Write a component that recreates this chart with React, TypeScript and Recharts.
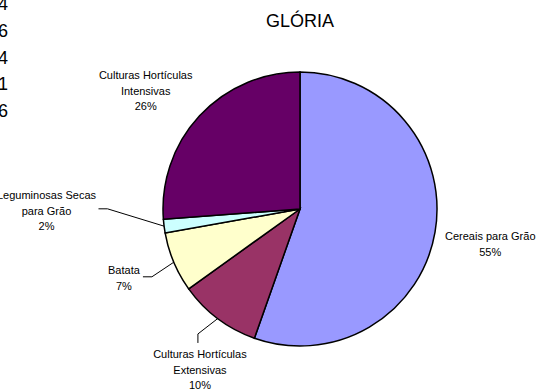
import React from 'react';
import { PieChart, Pie, Cell } from 'recharts';

// Área por tipo de cultura (freguesia da Glória)
const categories = [
    'Cereais para Grão',
    'Culturas Hortículas Extensivas',
    'Batata',
    'Leguminosas Secas para Grão',
    'Culturas Hortículas Intensivas',
];
const shares = [55.4, 9.7, 7.1, 1.6, 26.2];
const labelLines = [
    ['Cereais para Grão'],
    ['Culturas Hortículas', 'Extensivas'],
    ['Batata'],
    ['Leguminosas Secas', 'para Grão'],
    ['Culturas Hortículas', 'Intensivas'],
];
// fragmentos de números cortados à esquerda da imagem
const clippedDigits = ['4', '6', '4', '1', '6'];

const colors = ['#9999FF', '#993366', '#FFFFCC', '#CCFFFF', '#660066'];

// ajustes das etiquetas (deslocamento relativo à posição radial) e linhas de chamada
const labelShift = [
    [3, 3],
    [14, 9],
    [-1, -5],
    [-65, -22],
    [-15, 11],
];
const leaders: (number[][] | null)[] = [
    null,
    [[-2, -36], [-2, -27]],
    [[28, -1], [19, -1]],
    [[61, -2], [52, -2]],
    null,
];

const data = categories.map((name, i) => ({ name, value: shares[i] }));

const FONT = '"Liberation Sans", Arial, sans-serif';
const RAD = Math.PI / 180;

const renderLabel = (props: any) => {
    const { cx, cy, midAngle, outerRadius, percent, index } = props;
    const r = outerRadius + 53;
    const lx = cx + r * Math.cos(-midAngle * RAD) + labelShift[index][0];
    const ly = cy + r * Math.sin(-midAngle * RAD) + labelShift[index][1];
    const lines = [...labelLines[index], `${Math.round(percent * 100)}%`];
    const lineH = 15.5;
    const top = ly - ((lines.length - 1) * lineH) / 2;
    const leader = leaders[index];
    let path = null;
    if (leader) {
        const ex = cx + outerRadius * Math.cos(-midAngle * RAD);
        const ey = cy + outerRadius * Math.sin(-midAngle * RAD);
        const pts = [[ex, ey], ...leader.map(([dx, dy]) => [lx + dx, ly + dy])];
        path = (
            <polyline
                points={pts.map((p) => p.join(',')).join(' ')}
                fill="none"
                stroke="#000"
                strokeWidth={1}
            />
        );
    }
    return (
        <g key={`lbl-${index}`}>
            {path}
            <text textAnchor="middle" fontFamily={FONT} fontSize={11} fill="#000">
                {lines.map((t, j) => (
                    <tspan key={j} x={lx} y={top + j * lineH + 4}>
                        {t}
                    </tspan>
                ))}
            </text>
        </g>
    );
};

export default function App() {
    return (
        <div style={{ position: 'absolute', left: 0, top: 0, width: 539, height: 389, background: '#fff' }}>
            <PieChart width={539} height={389} margin={{ top: 0, right: 0, bottom: 0, left: 0 }}>
                <Pie
                    data={data}
                    dataKey="value"
                    nameKey="name"
                    cx={300}
                    cy={209}
                    innerRadius={0}
                    outerRadius={137}
                    startAngle={90}
                    endAngle={-270}
                    stroke="#000"
                    strokeWidth={1.5}
                    label={renderLabel}
                    labelLine={false}
                    isAnimationActive={false}
                >
                    {data.map((_entry, index) => (
                        <Cell key={`cell-${index}`} fill={colors[index]} />
                    ))}
                </Pie>
            </PieChart>
            <svg
                width={539}
                height={389}
                style={{ position: 'absolute', left: 0, top: 0, pointerEvents: 'none' }}
            >
                <text x={300} y={27} textAnchor="middle" fontFamily={FONT} fontSize={18} fill="#000">
                    GLÓRIA
                </text>
                {clippedDigits.map((d, i) => (
                    <text key={i} x={8} y={10 + i * 26.8} textAnchor="end" fontFamily={FONT} fontSize={18} fill="#000">
                        {d}
                    </text>
                ))}
            </svg>
        </div>
    );
}
